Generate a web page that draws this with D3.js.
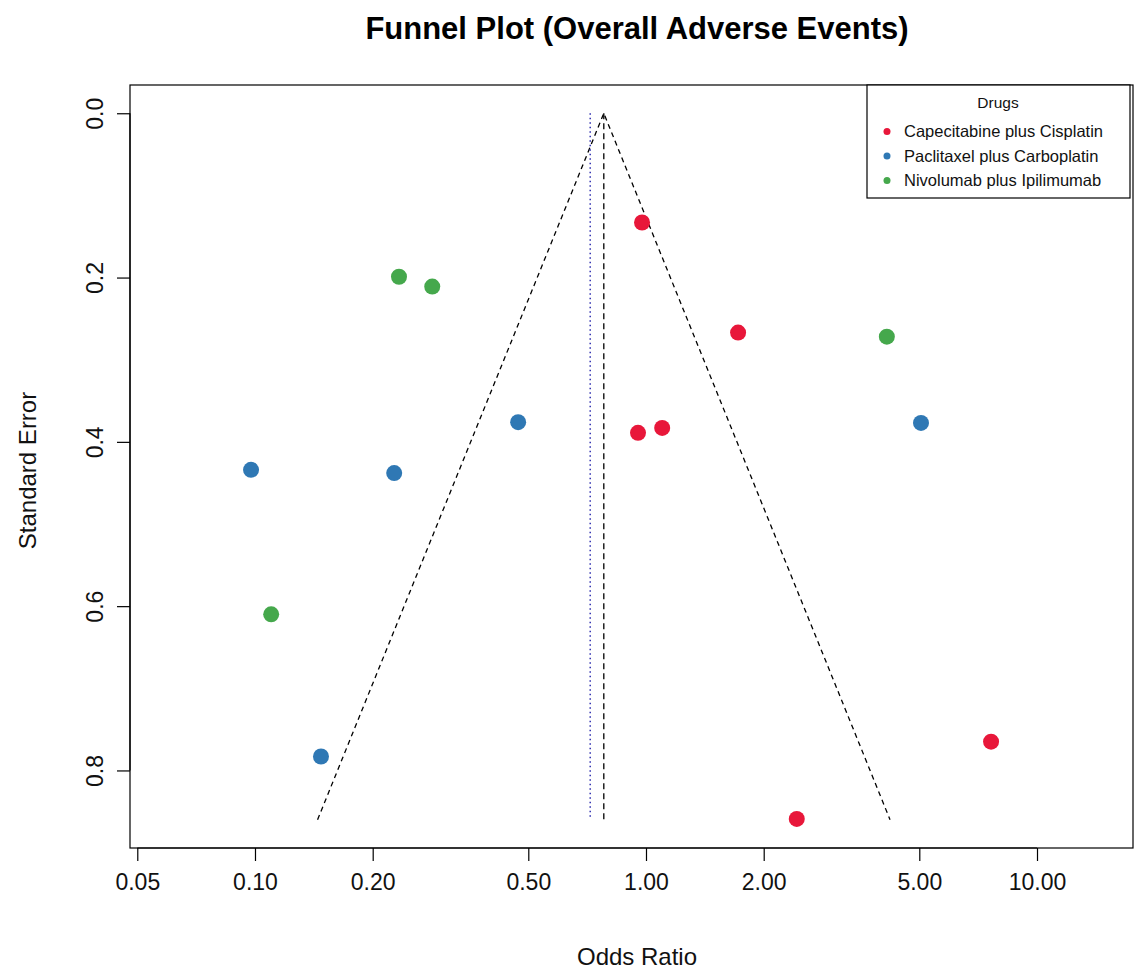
<!DOCTYPE html>
<html>
<head>
<meta charset="utf-8">
<script src="https://cdn.jsdelivr.net/npm/d3@7"></script>
<style>
  html, body { margin: 0; padding: 0; background: #fff; }
  svg { display: block; font-family: "Liberation Sans", Arial, sans-serif; }
</style>
</head>
<body>
<svg id="chart" width="1134" height="970"></svg>
<script>
// Study-level odds ratios and standard errors, grouped by drug combination
const drugs = ["Capecitabine plus Cisplatin", "Paclitaxel plus Carboplatin", "Nivolumab plus Ipilimumab"];
const drugColors = ["#E8173A", "#2F78B4", "#45A84C"];

const capecitabineOR = [0.977, 1.72, 0.954, 1.10, 7.63, 2.43];
const capecitabineSE = [0.133, 0.267, 0.389, 0.383, 0.765, 0.859];

const paclitaxelOR = [0.471, 5.05, 0.0977, 0.227, 0.1475];
const paclitaxelSE = [0.376, 0.377, 0.434, 0.438, 0.783];

const nivolumabOR = [0.2335, 0.284, 0.110, 4.13];
const nivolumabSE = [0.199, 0.211, 0.610, 0.272];

// Pooled estimates (fixed and random effects) and funnel depth
const pooledFixed = 0.78;
const pooledRandom = 0.72;
const funnelMaxSE = 0.86;

const xTicks = [0.05, 0.10, 0.20, 0.50, 1.00, 2.00, 5.00, 10.00];
const yTicks = [0.0, 0.2, 0.4, 0.6, 0.8];

const series = [capecitabineOR, paclitaxelOR, nivolumabOR].map((ors, i) => {
  const ses = [capecitabineSE, paclitaxelSE, nivolumabSE][i];
  return ors.map((or, j) => ({ or, se: ses[j], drug: i }));
});
const points = series.flat();

const svg = d3.select("#chart");
const box = { left: 130, right: 1133, top: 85, bottom: 848 };
const FONT = "Liberation Sans, Arial, sans-serif";

// Axis limits padded 4% beyond the data range, as in base R graphics
const lo = Math.log10(0.0479), hi = Math.log10(17.6);
const x = d3.scaleLog().domain([Math.pow(10, lo), Math.pow(10, hi)]).range([box.left, box.right]);
const yPad = funnelMaxSE * 0.04;
const y = d3.scaleLinear().domain([-yPad, funnelMaxSE + yPad]).range([box.top, box.bottom]);

// Title
svg.append("text")
  .attr("x", 637).attr("y", 39)
  .attr("text-anchor", "middle")
  .attr("font-size", 31).attr("font-weight", "bold")
  .text("Funnel Plot (Overall Adverse Events)");

// Plot frame
svg.append("rect")
  .attr("x", box.left).attr("y", box.top)
  .attr("width", box.right - box.left).attr("height", box.bottom - box.top)
  .attr("fill", "none").attr("stroke", "#000").attr("stroke-width", 1.2);

// X axis
const xAxis = d3.axisBottom(x).tickValues(xTicks).tickFormat(d3.format(".2f")).tickSize(13).tickPadding(13);
const gx = svg.append("g").attr("transform", `translate(0,${box.bottom})`).call(xAxis);
gx.select(".domain").attr("d", `M${x(xTicks[0])},0H${x(xTicks[xTicks.length - 1])}`);
gx.selectAll("text").attr("font-size", 23).attr("fill", "#111").attr("font-family", FONT);
gx.selectAll("line, path").attr("stroke", "#000").attr("stroke-width", 1.2);

// Y axis (labels run parallel to the axis)
const yAxis = d3.axisLeft(y).tickValues(yTicks).tickFormat(d3.format(".1f")).tickSize(13).tickPadding(0);
const gy = svg.append("g").attr("transform", `translate(${box.left},0)`).call(yAxis);
gy.select(".domain").attr("d", `M0,${y(yTicks[0])}V${y(yTicks[yTicks.length - 1])}`);
gy.selectAll("line, path").attr("stroke", "#000").attr("stroke-width", 1.2);
gy.selectAll(".tick text")
  .attr("font-size", 23).attr("fill", "#111").attr("font-family", FONT)
  .attr("x", 0).attr("dy", 0)
  .attr("text-anchor", "middle")
  .attr("transform", "translate(-35,0) rotate(-90)")
  .attr("dominant-baseline", "central");

// Axis titles
svg.append("text")
  .attr("x", 637).attr("y", 965)
  .attr("text-anchor", "middle").attr("font-size", 24).attr("fill", "#111")
  .text("Odds Ratio");
svg.append("text")
  .attr("transform", `translate(36,${(box.top + box.bottom) / 2 + 4}) rotate(-90)`)
  .attr("text-anchor", "middle").attr("font-size", 24).attr("fill", "#111")
  .text("Standard Error");

// Pseudo 95% confidence funnel around the fixed-effect estimate
const z = 1.96;
const funnel = [
  [pooledFixed * Math.exp(-z * funnelMaxSE), funnelMaxSE],
  [pooledFixed, 0],
  [pooledFixed * Math.exp(z * funnelMaxSE), funnelMaxSE]
];
const line = d3.line().x(d => x(d[0])).y(d => y(d[1]));
svg.append("path")
  .attr("d", line(funnel))
  .attr("fill", "none").attr("stroke", "#000").attr("stroke-width", 1.3)
  .attr("stroke-dasharray", "5,4");

// Fixed-effect estimate
svg.append("path")
  .attr("d", line([[pooledFixed, 0], [pooledFixed, funnelMaxSE]]))
  .attr("fill", "none").attr("stroke", "#000").attr("stroke-width", 1.3)
  .attr("stroke-dasharray", "6,4");

// Random-effects estimate
svg.append("path")
  .attr("d", line([[pooledRandom, 0], [pooledRandom, funnelMaxSE]]))
  .attr("fill", "none").attr("stroke", "#3030B0").attr("stroke-width", 1.5)
  .attr("stroke-dasharray", "1.5,3");

// Studies
svg.append("g").selectAll("circle")
  .data(points)
  .join("circle")
  .attr("cx", d => x(d.or))
  .attr("cy", d => y(d.se))
  .attr("r", 8)
  .attr("fill", d => drugColors[d.drug]);

// Legend
const lg = svg.append("g");
lg.append("rect")
  .attr("x", 867).attr("y", box.top).attr("width", 263).attr("height", 113)
  .attr("fill", "#fff").attr("stroke", "#000").attr("stroke-width", 1.2);
lg.append("text")
  .attr("x", 998).attr("y", 108)
  .attr("text-anchor", "middle").attr("font-size", 15.5).attr("fill", "#111")
  .text("Drugs");
drugs.forEach((name, i) => {
  const cy = 131.5 + i * 24.5;
  lg.append("circle").attr("cx", 887).attr("cy", cy).attr("r", 3.5).attr("fill", drugColors[i]);
  lg.append("text")
    .attr("x", 904).attr("y", cy + 5.5)
    .attr("font-size", 16.5).attr("fill", "#111")
    .text(name);
});
</script>
</body>
</html>
